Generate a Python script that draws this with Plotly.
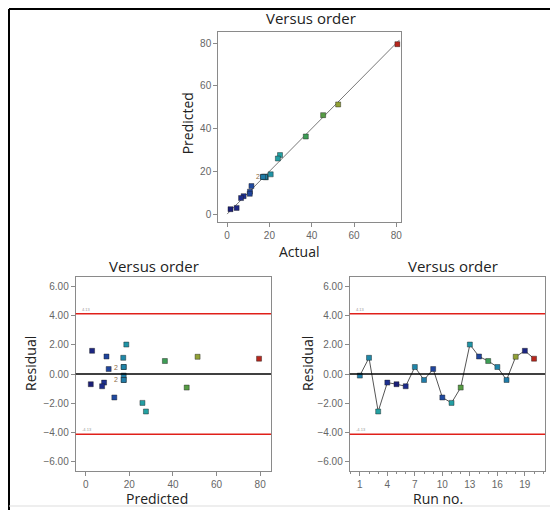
import plotly.graph_objects as go

# ---------------- data (per run, 1..20) ----------------
runs = list(range(1, 21))
predicted = [17.4, 17.2, 27.6, 8.4, 2.3, 7.5, 17.4, 17.4, 10.5, 13.1,
             26.0, 46.3, 18.6, 9.5, 36.3, 17.4, 17.4, 51.3, 2.9, 79.5]
actual = [17.3, 18.3, 25.0, 7.8, 1.6, 6.6, 17.9, 17.0, 10.8, 11.5,
          24.0, 45.4, 20.6, 10.7, 37.2, 17.9, 17.0, 52.5, 4.5, 80.5]
residual = [-0.11, 1.11, -2.57, -0.59, -0.70, -0.84, 0.48, -0.41, 0.34, -1.61,
            -1.98, -0.93, 2.02, 1.20, 0.89, 0.48, -0.41, 1.18, 1.59, 1.05]
limit_hi = 4.13
limit_lo = -4.13
limit_labels = ['4.13', '-4.13']
diag = [0, 81.5]

xt_top = [0, 20, 40, 60, 80]
yt_res = [-6, -4, -2, 0, 2, 4, 6]

# the page body has an 8px default margin: figure occupies (8,8)-(558,510)
OFF = 8
W, H = 558 - OFF, 510 - OFF
def fx(px):
    return (px - OFF) / W
def fy(py):
    return 1 - (py - OFF) / H

CS = [[0.0, '#1b1f78'], [0.08, '#1d2f90'], [0.15, '#2158a8'], [0.22, '#1f8fa8'],
      [0.32, '#25a7a0'], [0.45, '#3d9d55'], [0.57, '#5a9c42'], [0.66, '#9ca232'],
      [1.0, '#b8261c']]
cmin, cmax = min(actual), max(actual)
mk = dict(symbol='square', size=5, color=actual, colorscale=CS, cmin=cmin, cmax=cmax,
          line=dict(color='rgba(30,30,30,0.55)', width=0.8))

fig = go.Figure()

# top: predicted vs actual
fig.add_trace(go.Scatter(x=diag, y=diag, mode='lines', line=dict(color='#555', width=0.8),
                         xaxis='x', yaxis='y', hoverinfo='skip'))
fig.add_trace(go.Scatter(x=actual, y=predicted, mode='markers', marker=mk,
                         xaxis='x', yaxis='y'))
# bottom-left: residual vs predicted
fig.add_trace(go.Scatter(x=predicted, y=residual, mode='markers', marker=mk,
                         xaxis='x2', yaxis='y2'))
# bottom-right: residual vs run
fig.add_trace(go.Scatter(x=runs, y=residual, mode='lines', line=dict(color='#555', width=1),
                         xaxis='x3', yaxis='y3', hoverinfo='skip'))
fig.add_trace(go.Scatter(x=runs, y=residual, mode='markers', marker=mk,
                         xaxis='x3', yaxis='y3'))

ax_common = dict(showgrid=False, zeroline=False, showline=True, mirror=True,
                 linecolor='#8a8a8a', linewidth=1, ticks='outside', ticklen=4,
                 tickcolor='#8a8a8a', tickfont=dict(family='Liberation Sans', size=10, color='#666'))

fig.update_layout(
    width=W, height=H, margin=dict(l=0, r=0, t=0, b=0),
    paper_bgcolor='white', plot_bgcolor='white', showlegend=False,
    xaxis=dict(ax_common, domain=[fx(219), fx(402)], range=[-4.2, 82], tickvals=xt_top, anchor='y'),
    yaxis=dict(ax_common, domain=[fy(222), fy(32)], range=[-3.7, 85.2], tickvals=xt_top, anchor='x'),
    xaxis2=dict(ax_common, domain=[fx(76), fx(272)], range=[-4.6, 85], tickvals=xt_top, anchor='y2'),
    yaxis2=dict(ax_common, domain=[fy(471), fy(277)], range=[-6.65, 6.65], tickvals=yt_res,
                tickformat='.2f', anchor='x2'),
    xaxis3=dict(ax_common, domain=[fx(351), fx(547)], range=[-0.1, 21.2], tickmode='linear',
                tick0=1, dtick=3, anchor='y3',
                minor=dict(tickmode='linear', tick0=0, dtick=1, ticklen=2, tickcolor='#8a8a8a', ticks='outside')),
    yaxis3=dict(ax_common, domain=[fy(471), fy(277)], range=[-6.65, 6.65], tickvals=yt_res,
                tickformat='.2f', anchor='x3'),
)

shapes = []
for xa, ya in [('x2', 'y2'), ('x3', 'y3')]:
    for val, col in [(limit_hi, '#e0201a'), (limit_lo, '#e0201a'), (0, 'black')]:
        shapes.append(dict(type='line', xref=xa + ' domain', yref=ya, x0=0, x1=1, y0=val, y1=val,
                           line=dict(color=col, width=1.5)))
# outer frame
shapes.append(dict(type='line', xref='paper', yref='paper', x0=fx(9), x1=1, y0=fy(9), y1=fy(9),
                   line=dict(color='black', width=2)))
shapes.append(dict(type='line', xref='paper', yref='paper', x0=fx(9), x1=fx(9), y0=fy(9), y1=0,
                   line=dict(color='black', width=2)))
shapes.append(dict(type='line', xref='paper', yref='paper', x0=fx(9), x1=1, y0=fy(506), y1=fy(506),
                   line=dict(color='#dddddd', width=1)))
fig.update_layout(shapes=shapes)

tfont = dict(family='Open Sans', size=15, color='#222')
afont = dict(family='Open Sans', size=14, color='#222')
ann = []
def add_text(text, px, py, font, angle=0):
    ann.append(dict(text=text, x=fx(px), y=fy(py), xref='paper', yref='paper', showarrow=False,
                    font=font, textangle=angle, xanchor='center', yanchor='middle'))

add_text('Versus order', 312, 18, tfont)
add_text('Versus order', 155, 266, tfont)
add_text('Versus order', 455, 266, tfont)
add_text('Predicted', 188, 123, afont, -90)
add_text('Actual', 300, 251, afont)
add_text('Residual', 30, 363, afont, -90)
add_text('Predicted', 158, 498, afont)
add_text('Residual', 308, 363, afont, -90)
add_text('Run no.', 440, 498, afont)

small = dict(family='Liberation Sans', size=7, color='#8a6a40')
ann.append(dict(text='2', x=16.6, y=17.5, xref='x', yref='y', showarrow=False, font=small, xanchor='right'))
ann.append(dict(text='2', x=15.6, y=0.48, xref='x2', yref='y2', showarrow=False, font=small, xanchor='right'))
ann.append(dict(text='2', x=15.6, y=-0.41, xref='x2', yref='y2', showarrow=False, font=small, xanchor='right'))

tiny = dict(family='Liberation Sans', size=4, color='#999')
for xa, ya in [('x2', 'y2'), ('x3', 'y3')]:
    for val, lab in zip([limit_hi, limit_lo], limit_labels):
        ann.append(dict(text=lab, x=0.02, y=val, xref=xa + ' domain', yref=ya, showarrow=False,
                        font=tiny, xanchor='left', yanchor='bottom', yshift=0))
fig.update_layout(annotations=ann)

fig.write_html('out.html')
